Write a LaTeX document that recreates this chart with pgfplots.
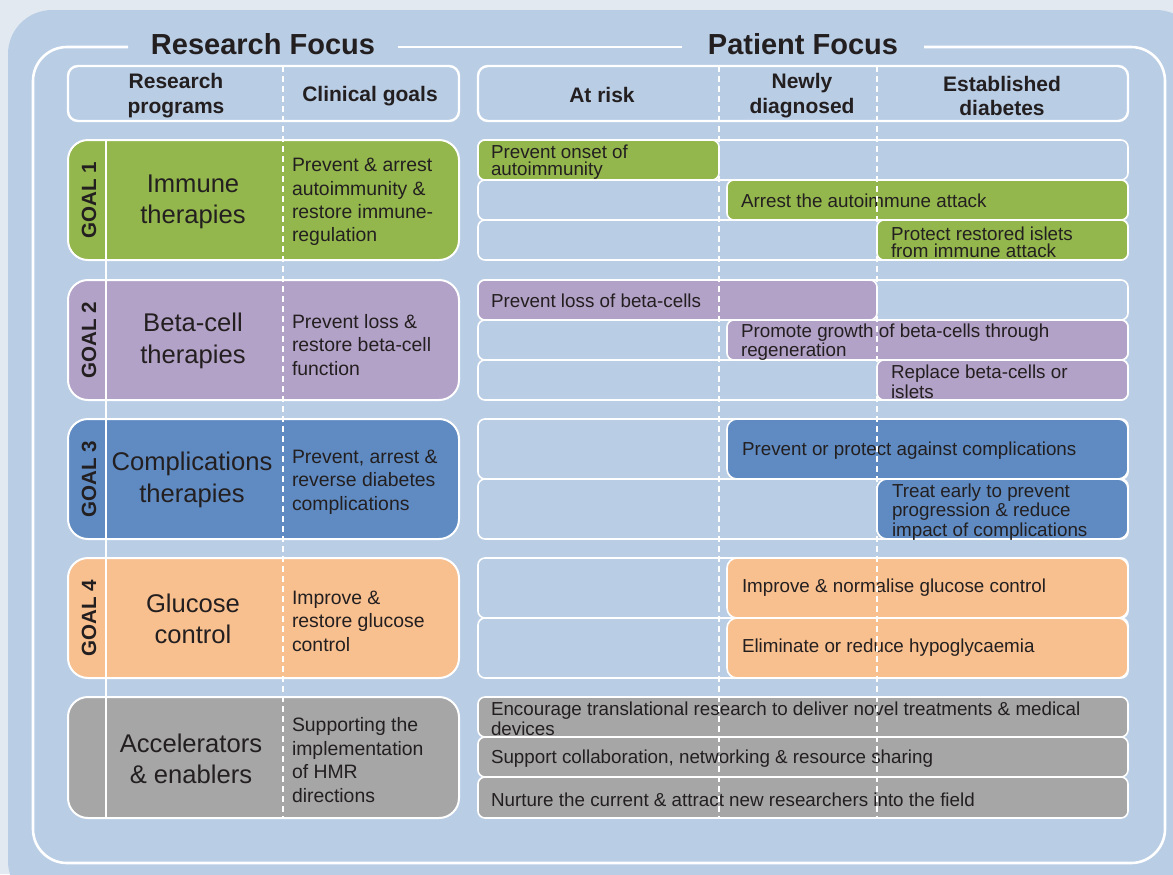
\documentclass[border=0pt]{standalone}
\usepackage{pgfplots}
\pgfplotsset{compat=1.18}
\usepackage{fontspec}
\setmainfont{Liberation Sans}
\definecolor{pagebg}{HTML}{E2E9F1}
\definecolor{panel}{HTML}{B9CDE5}
\definecolor{gA}{HTML}{93B74C}
\definecolor{gB}{HTML}{B3A2C7}
\definecolor{gC}{HTML}{5F8BC2}
\definecolor{gD}{HTML}{F9C08F}
\definecolor{gE}{HTML}{A6A6A6}
\definecolor{txt}{HTML}{231F20}
\newcommand{\titlefont}{\fontsize{14.5}{16}\selectfont\bfseries}
\newcommand{\headfont}{\fontsize{10.5}{12.4}\selectfont\bfseries}
\newcommand{\goalfont}{\fontsize{10.3}{12}\selectfont\bfseries}
\newcommand{\progfont}{\fontsize{12.8}{15.8}\selectfont}
\newcommand{\clinfont}{\fontsize{9.7}{11.7}\selectfont}
\newcommand{\bartext}{\fontsize{9.4}{8.7}\selectfont}
\tikzset{lbl/.style={inner sep=0pt, outer sep=0pt, text=txt}}
% rounded box from pgfplots coordinates: x1 y1 x2 y2 style
\newcommand{\rbox}[5]{%
  \pgfmathsetmacro{\mx}{(#1+#3)/2}%
  \edef\temp{\noexpand\addplot[\unexpanded{#5}] coordinates {(\mx,#2) (#3,#2) (#3,#4) (#1,#4) (#1,#2)} -- cycle;}\temp}
\begin{document}
\begin{tikzpicture}
\begin{axis}[
  scale only axis, width=586.5pt, height=437pt,
  xmin=0, xmax=1173, ymin=0, ymax=874, y dir=reverse,
  hide axis, clip=true,
]
% page background and outer panel
\rbox{0}{0}{1173}{874}{fill=pagebg, draw=none}
\rbox{8}{10}{1200}{905}{fill=panel, draw=none, rounded corners=22pt}
% white outline with gaps for titles
\addplot[draw=white, line width=1.3pt, rounded corners=17pt] coordinates {(128,47) (33,47) (33,863) (1165,863) (1165,47) (924,47)};
\addplot[draw=white, line width=1.3pt] coordinates {(398,47) (682,47)};
% header boxes
\rbox{68}{66}{459}{121}{draw=white, line width=1.2pt, rounded corners=5pt}
\rbox{478}{66}{1128}{121}{draw=white, line width=1.2pt, rounded corners=5pt}
% goal boxes (left)
\rbox{68}{140}{459}{260}{fill=gA, draw=white, line width=1pt, rounded corners=10pt}
\rbox{68}{280}{459}{400}{fill=gB, draw=white, line width=1pt, rounded corners=10pt}
\rbox{68}{419}{459}{539}{fill=gC, draw=white, line width=1pt, rounded corners=10pt}
\rbox{68}{558}{459}{678}{fill=gD, draw=white, line width=1pt, rounded corners=10pt}
\rbox{68}{697}{459}{818}{fill=gE, draw=white, line width=1pt, rounded corners=10pt}
% patient rows (empty)
\rbox{478}{140}{1128}{180}{fill=panel, draw=white, line width=0.8pt, rounded corners=3.5pt}
\rbox{478}{180}{1128}{220}{fill=panel, draw=white, line width=0.8pt, rounded corners=3.5pt}
\rbox{478}{220}{1128}{260}{fill=panel, draw=white, line width=0.8pt, rounded corners=3.5pt}
\rbox{478}{280}{1128}{320}{fill=panel, draw=white, line width=0.8pt, rounded corners=3.5pt}
\rbox{478}{320}{1128}{360}{fill=panel, draw=white, line width=0.8pt, rounded corners=3.5pt}
\rbox{478}{360}{1128}{400}{fill=panel, draw=white, line width=0.8pt, rounded corners=3.5pt}
\rbox{478}{419}{1128}{479}{fill=panel, draw=white, line width=0.8pt, rounded corners=3.5pt}
\rbox{478}{479}{1128}{539}{fill=panel, draw=white, line width=0.8pt, rounded corners=3.5pt}
\rbox{478}{558}{1128}{618}{fill=panel, draw=white, line width=0.8pt, rounded corners=3.5pt}
\rbox{478}{618}{1128}{678}{fill=panel, draw=white, line width=0.8pt, rounded corners=3.5pt}
% patient bars
\rbox{478}{140}{719}{180}{fill=gA, draw=white, line width=0.8pt, rounded corners=3.5pt}
\rbox{727}{180}{1128}{220}{fill=gA, draw=white, line width=0.8pt, rounded corners=3.5pt}
\rbox{877}{220}{1128}{260}{fill=gA, draw=white, line width=0.8pt, rounded corners=3.5pt}
\rbox{478}{280}{877}{320}{fill=gB, draw=white, line width=0.8pt, rounded corners=3.5pt}
\rbox{727}{320}{1128}{360}{fill=gB, draw=white, line width=0.8pt, rounded corners=3.5pt}
\rbox{877}{360}{1128}{400}{fill=gB, draw=white, line width=0.8pt, rounded corners=3.5pt}
\rbox{727}{419}{1128}{479}{fill=gC, draw=white, line width=0.8pt, rounded corners=5pt}
\rbox{877}{479}{1128}{539}{fill=gC, draw=white, line width=0.8pt, rounded corners=5pt}
\rbox{727}{558}{1128}{618}{fill=gD, draw=white, line width=0.8pt, rounded corners=5pt}
\rbox{727}{618}{1128}{678}{fill=gD, draw=white, line width=0.8pt, rounded corners=5pt}
\rbox{478}{697}{1128}{737}{fill=gE, draw=white, line width=0.8pt, rounded corners=3.5pt}
\rbox{478}{737}{1128}{777}{fill=gE, draw=white, line width=0.8pt, rounded corners=3.5pt}
\rbox{478}{777}{1128}{818}{fill=gE, draw=white, line width=0.8pt, rounded corners=3.5pt}
% titles
\node[lbl, font=\titlefont] at (axis cs:263,44) {Research Focus};
\node[lbl, font=\titlefont] at (axis cs:803,44) {Patient Focus};
% headers
\node[lbl, font=\headfont, align=center] at (axis cs:176,96) {Research\\programs};
\node[lbl, font=\headfont, align=center] at (axis cs:370,96) {Clinical goals};
\node[lbl, font=\headfont, align=center] at (axis cs:602,95) {At risk};
\node[lbl, font=\headfont, align=center] at (axis cs:802,96) {Newly\\diagnosed};
\node[lbl, font=\headfont, align=center] at (axis cs:1002,96) {Established\\diabetes};
% goal labels
\node[lbl, font=\goalfont, rotate=90] at (axis cs:89,200) {GOAL 1};
\node[lbl, font=\goalfont, rotate=90] at (axis cs:89,340) {GOAL 2};
\node[lbl, font=\goalfont, rotate=90] at (axis cs:89,479) {GOAL 3};
\node[lbl, font=\goalfont, rotate=90] at (axis cs:89,618) {GOAL 4};
% program names
\node[lbl, font=\progfont, align=center] at (axis cs:193,202) {Immune\\therapies};
\node[lbl, font=\progfont, align=center] at (axis cs:193,341) {Beta-cell\\therapies};
\node[lbl, font=\progfont, align=center] at (axis cs:192,480) {Complications\\therapies};
\node[lbl, font=\progfont, align=center] at (axis cs:193,619) {Glucose\\control};
\node[lbl, font=\progfont, align=center] at (axis cs:191,759) {Accelerators\\\& enablers};
% clinical goals
\node[lbl, font=\clinfont, align=left, anchor=west] at (axis cs:292,202) {Prevent \& arrest\\autoimmunity \&\\restore immune-\\regulation};
\node[lbl, font=\clinfont, align=left, anchor=west] at (axis cs:292,345) {Prevent loss \&\\restore beta-cell\\function};
\node[lbl, font=\clinfont, align=left, anchor=west] at (axis cs:292,482) {Prevent, arrest \&\\reverse diabetes\\complications};
\node[lbl, font=\clinfont, align=left, anchor=west] at (axis cs:292,621) {Improve \&\\restore glucose\\control};
\node[lbl, font=\clinfont, align=left, anchor=west] at (axis cs:292,760) {Supporting the\\implementation\\of HMR\\directions};
% bar texts
\node[lbl, font=\bartext, align=left, anchor=west] at (axis cs:491,162) {Prevent onset of\\autoimmunity};
\node[lbl, font=\bartext, align=left, anchor=west] at (axis cs:741,201) {Arrest the autoimmune attack};
\node[lbl, font=\bartext, align=left, anchor=west] at (axis cs:891,242) {Protect restored islets\\from immune attack};
\node[lbl, font=\bartext, align=left, anchor=west] at (axis cs:491,301) {Prevent loss of beta-cells};
\node[lbl, font=\bartext, align=left, anchor=west] at (axis cs:741,342) {Promote growth of beta-cells through\\regeneration};
\node[lbl, font=\bartext, align=left, anchor=west] at (axis cs:891,382) {Replace beta-cells or\\islets};
\node[lbl, font=\bartext, align=left, anchor=west] at (axis cs:742,451) {Prevent or protect against complications};
\node[lbl, font=\bartext, align=left, anchor=west] at (axis cs:892,512) {Treat early to prevent\\progression \& reduce\\impact of complications};
\node[lbl, font=\bartext, align=left, anchor=west] at (axis cs:742,588) {Improve \& normalise glucose control};
\node[lbl, font=\bartext, align=left, anchor=west] at (axis cs:742,648) {Eliminate or reduce hypoglycaemia};
\node[lbl, font=\bartext, align=left, anchor=west] at (axis cs:491,719) {Encourage translational research to deliver novel treatments \& medical\\devices};
\node[lbl, font=\bartext, align=left, anchor=west] at (axis cs:491,759) {Support collaboration, networking \& resource sharing};
\node[lbl, font=\bartext, align=left, anchor=west] at (axis cs:491,800) {Nurture the current \& attract new researchers into the field};
% separator lines
\addplot[draw=white, line width=1.1pt] coordinates {(106,140) (106,818)};
\addplot[draw=white, line width=0.8pt, dash pattern=on 3pt off 2pt] coordinates {(283,66) (283,818)};
\addplot[draw=white, line width=0.8pt, dash pattern=on 3pt off 2pt] coordinates {(719,66) (719,818)};
\addplot[draw=white, line width=0.8pt, dash pattern=on 3pt off 2pt] coordinates {(877,66) (877,818)};
\end{axis}
\end{tikzpicture}
\end{document}
